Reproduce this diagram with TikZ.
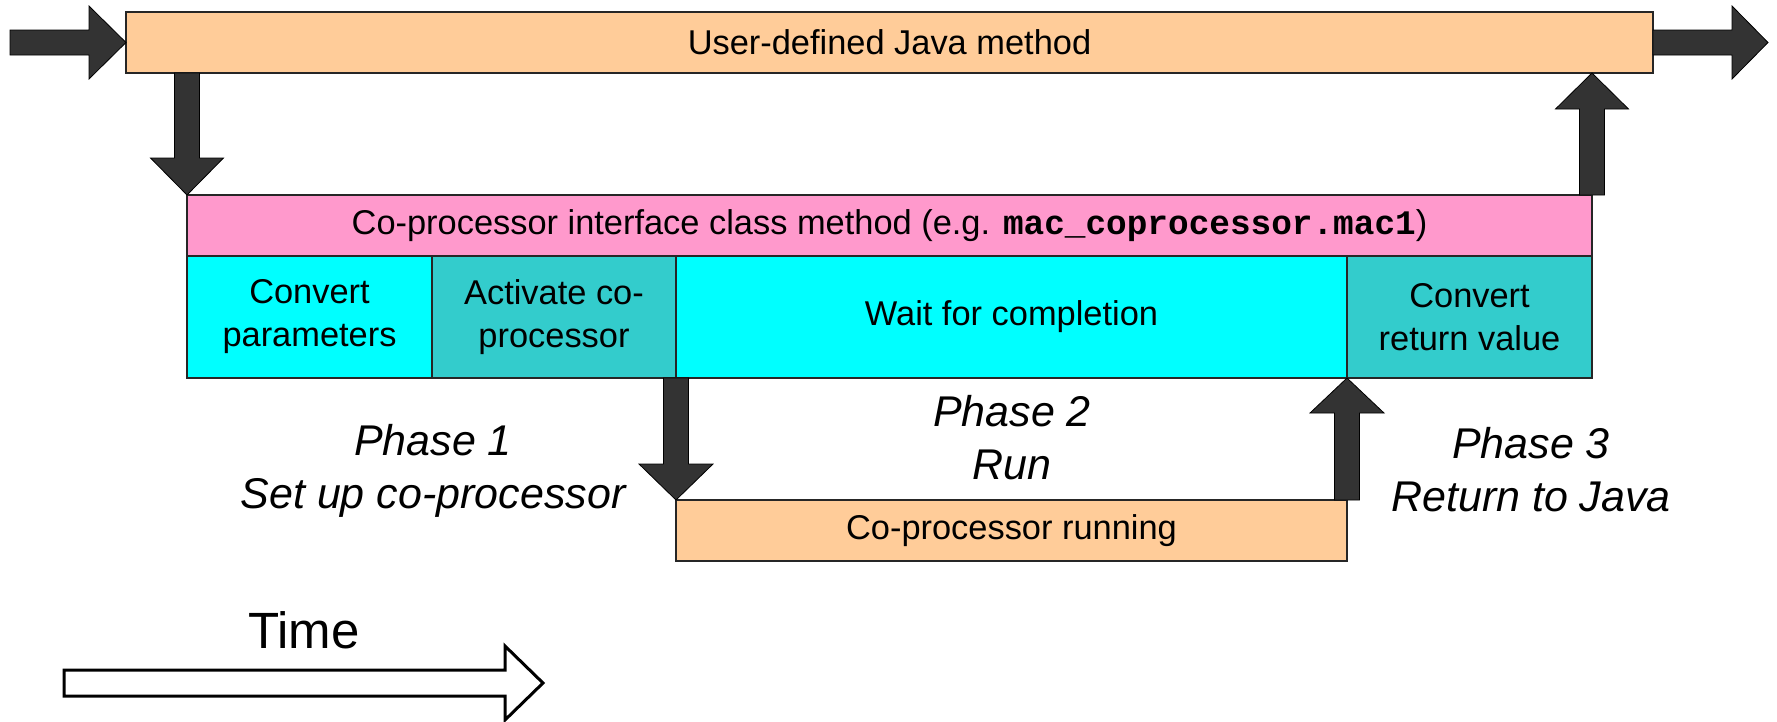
\documentclass[tikz,border=0pt]{standalone}
\usepackage{fontspec}
\setmainfont{Liberation Sans}
\setmonofont{Liberation Mono}
\usetikzlibrary{calc}

\definecolor{peach}{HTML}{FFCC99}
\definecolor{rose}{HTML}{FF99CC}
\definecolor{aqua}{HTML}{00FFFF}
\definecolor{tealbox}{HTML}{33CCCC}
\definecolor{arrowgray}{HTML}{333333}

% Block arrow from #2 (tail) to #3 (tip): shaft half-width #4,
% head half-width #5, head length #6; #1 extra style.
\newcommand\blockarrow[6][]{%
  \coordinate (ba-base) at ($(#3)!#6!(#2)$);
  \path[fatarrow,#1]
    ($(#2)!#4!90:(#3)$) -- ($(ba-base)!#4!90:(#3)$) -- ($(ba-base)!#5!90:(#3)$)
    -- (#3) -- ($(ba-base)!#5!-90:(#3)$) -- ($(ba-base)!#4!-90:(#3)$)
    -- ($(#2)!#4!-90:(#3)$) -- cycle;
}

\begin{document}
\begin{tikzpicture}[x=1pt,y=-1pt,
  box/.style={draw=black!85, line width=1.2pt, inner sep=0pt, outer sep=0pt,
    anchor=north west, align=center, font=\fontsize{34.4}{43}\selectfont},
  fatarrow/.style={fill=arrowgray, draw=black, line width=0.8pt, line join=miter},
  phase/.style={align=center, inner sep=0pt, font=\fontsize{43}{53}\selectfont\itshape},
  timearrow/.style={fill=white, draw=black, line width=3pt}]

\useasboundingbox (0,0) rectangle (1777,721);

% Java method and interface method
\node[box, fill=peach, minimum width=1527pt, minimum height=61pt] (java) at (126,12)
  {User-defined Java method};
\node[box, fill=rose, minimum width=1405pt, minimum height=61pt] (iface) at (187,195)
  {Co-processor interface class method (e.g. \textbf{\texttt{mac\_coprocessor.mac1}})};

% Steps of the interface method
\node[box, fill=aqua, minimum width=245pt, minimum height=122pt] (conv1) at (187,256)
  {Convert\\parameters};
\node[box, fill=tealbox, minimum width=244pt, minimum height=122pt] (act) at (432,256)
  {Activate co-\\processor};
\node[box, fill=aqua, minimum width=671pt, minimum height=122pt] (wait) at (676,256)
  {Wait for completion};
\node[box, fill=tealbox, minimum width=245pt, minimum height=122pt] (conv2) at (1347,256)
  {Convert\\return value};

% Co-processor run
\node[box, fill=peach, minimum width=671pt, minimum height=61pt] (run) at (676,500)
  {Co-processor running};

% Phase labels
\node[phase] (ph1) at (433,471) {Phase 1\\Set up co-processor};
\node[phase] (ph2) at (1012,438) {Phase 2\\Run};
\node[phase] (ph3) at (1531,470) {Phase 3\\Return to Java};

% Control flow arrows
\coordinate (in) at (10,42.5);
\coordinate (out) at (1768,42.5);
\coordinate (d1s) at (iface.north west |- java.south);
\coordinate (u1t) at (iface.north east |- java.south);
\coordinate (d2s) at (run.north west |- wait.south);
\coordinate (u2t) at (run.north east |- wait.south);

\blockarrow{in}{java.west}{12.5pt}{36.5pt}{37pt}
\blockarrow{java.east}{out}{12.5pt}{36.5pt}{36pt}
\blockarrow{d1s}{iface.north west}{12.5pt}{36.5pt}{37pt}
\blockarrow{iface.north east}{u1t}{12.5pt}{36.5pt}{36pt}
\blockarrow{d2s}{run.north west}{12.5pt}{37pt}{36pt}
\blockarrow{run.north east}{u2t}{12.5pt}{37pt}{35pt}

% Time axis
\node[inner sep=0pt, font=\fontsize{51}{60}\selectfont] (time) at (304,630) {Time};
\coordinate (t0) at (64,683);
\coordinate (t1) at (543,683);
\blockarrow[timearrow]{t0}{t1}{13pt}{37pt}{38pt}

\end{tikzpicture}
\end{document}
